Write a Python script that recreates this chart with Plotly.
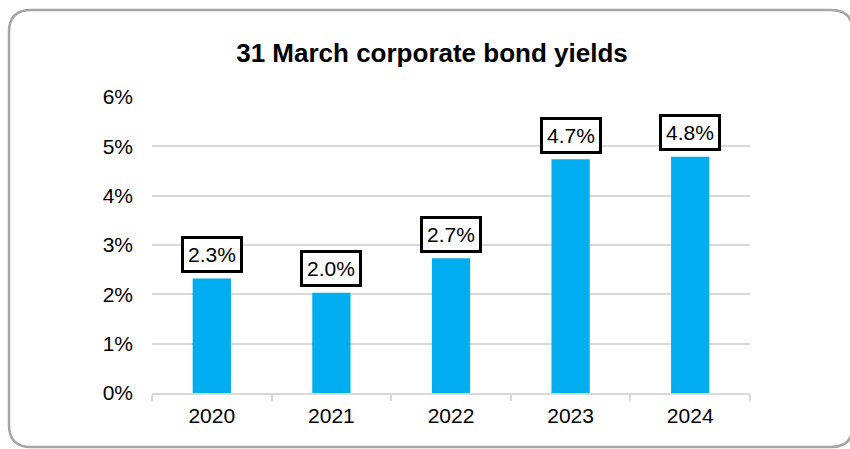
import plotly.graph_objects as go

years = ["2020", "2021", "2022", "2023", "2024"]
yields = [2.32, 2.03, 2.73, 4.74, 4.79]
labels = ["2.3%", "2.0%", "2.7%", "4.7%", "4.8%"]
y_ticks = [0, 1, 2, 3, 4, 5, 6]
y_tick_text = ["0%", "1%", "2%", "3%", "4%", "5%", "6%"]

W, H = 850, 449
L, R, T, B = 152, 100, 97, 56
pw, ph = W - L - R, H - T - B

def px(x):
    return (x - L) / pw

def py(y):
    return (H - B - y) / ph

FONT = "Liberation Sans, Arial"

fig = go.Figure()
fig.add_trace(go.Bar(x=years, y=yields, marker_color="#00AEEF",
                     marker_line_width=0, hoverinfo="skip"))

for i, (v, t) in enumerate(zip(yields, labels)):
    fig.add_annotation(x=i, y=v, xref="x", yref="y", text=t, showarrow=False,
                       yanchor="middle", yshift=24, bgcolor="white",
                       bordercolor="black", borderwidth=3, borderpad=4,
                       font=dict(size=21, color="black", family=FONT))

# rounded border around chart
x0, y0, x1, y1, r = 9, 10, 853, 447, 22
path = (f"M {px(x0+r)},{py(y0)} L {px(x1-r)},{py(y0)} Q {px(x1)},{py(y0)} {px(x1)},{py(y0+r)} "
        f"L {px(x1)},{py(y1-r)} Q {px(x1)},{py(y1)} {px(x1-r)},{py(y1)} "
        f"L {px(x0+r)},{py(y1)} Q {px(x0)},{py(y1)} {px(x0)},{py(y1-r)} "
        f"L {px(x0)},{py(y0+r)} Q {px(x0)},{py(y0)} {px(x0+r)},{py(y0)} Z")
fig.add_shape(type="path", path=path, xref="paper", yref="paper",
              line=dict(color="#a6a6a6", width=2.5), layer="above")

fig.update_layout(
    width=W, height=H,
    margin=dict(l=L, r=R, t=T, b=B),
    paper_bgcolor="white", plot_bgcolor="white",
    bargap=0.68,
    showlegend=False,
    title=dict(text="<b>31 March corporate bond yields</b>", x=432 / W, xanchor="center",
               y=1 - 53 / H, yanchor="middle",
               font=dict(size=26, color="black", family=FONT)),
    font=dict(family=FONT, size=21, color="black"),
    xaxis=dict(type="category", range=[-0.5, len(years) - 0.5], autorange=False,
               automargin=False, tickangle=0, ticklabelstandoff=3,
               showline=True, linecolor="#d9d9d9", linewidth=1.5,
               ticks="outside", tickson="boundaries", ticklen=6, tickcolor="#d9d9d9",
               tickwidth=1.5, showgrid=False, tickfont=dict(size=21)),
    yaxis=dict(range=[0, 6], tickvals=y_ticks, ticktext=y_tick_text, automargin=False,
               showgrid=True, gridcolor="#d9d9d9", gridwidth=1.5, zeroline=False,
               showline=False, ticks="", ticklabelstandoff=18, tickfont=dict(size=21)),
)

fig.write_html("out.html")
